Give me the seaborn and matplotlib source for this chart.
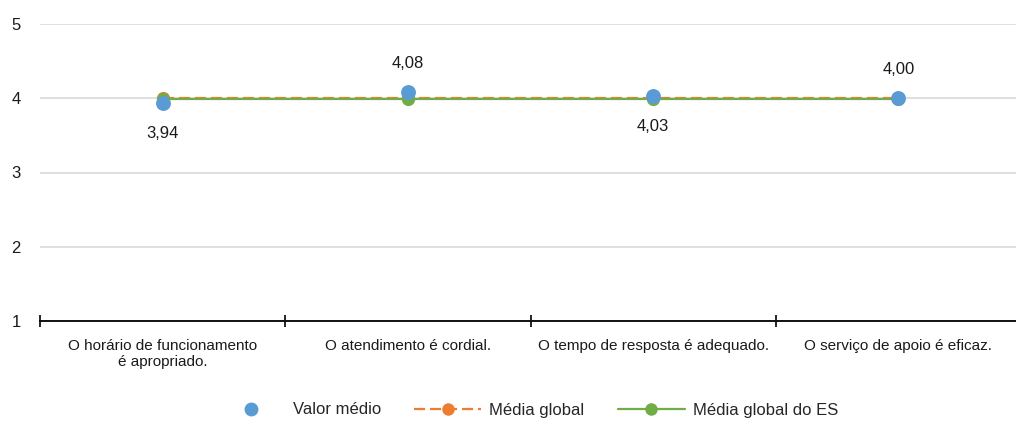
import matplotlib
matplotlib.use("Agg")
import matplotlib.pyplot as plt
from matplotlib.lines import Line2D
import seaborn as sns
import numpy as np
import pandas as pd

categories = [
    "O horário de funcionamento\né apropriado.",
    "O atendimento é cordial.",
    "O tempo de resposta é adequado.",
    "O serviço de apoio é eficaz.",
]
valor_medio = [3.94, 4.08, 4.03, 4.00]
media_global = [4.01, 4.01, 4.01, 4.01]
media_global_es = [3.99, 3.99, 3.99, 3.99]
label_above = [False, True, False, True]

BLUE = "#5B9BD5"
ORANGE = "#ED7D31"
GREEN = "#70AD47"
DASH = (0, (5, 2.2))

sns.set_theme(style="white")
plt.rcParams["font.family"] = ["Liberation Sans", "DejaVu Sans"]

df = pd.DataFrame({
    "pos": np.arange(len(categories)),
    "Valor médio": valor_medio,
    "Média global": media_global,
    "Média global do ES": media_global_es,
})

fig = plt.figure(figsize=(10.16, 4.24), dpi=100)
ax = fig.add_axes([40 / 1016, 1 - 321 / 424, 981 / 1016, 297 / 424])

sns.lineplot(data=df, x="pos", y="Média global", ax=ax, color=ORANGE,
             linewidth=1.6, linestyle=DASH, marker="o", markersize=9.5,
             markeredgewidth=0, zorder=3)
sns.lineplot(data=df, x="pos", y="Média global do ES", ax=ax, color=GREEN,
             linewidth=1.6, marker="o", markersize=9.5, markeredgewidth=0,
             zorder=4)
sns.scatterplot(data=df, x="pos", y="Valor médio", ax=ax, color=BLUE,
                s=115, linewidth=0, zorder=5)

for i, (v, up) in enumerate(zip(valor_medio, label_above)):
    ax.annotate(f"{v:.2f}".replace(".", ","), (i, v),
                xytext=(0, 21 if up else -22), textcoords="offset points",
                ha="center", va="center", fontsize=12, color="#1a1a1a")

ax.set_xlim(-0.5, len(categories) - 0.5)
ax.set_ylim(1, 5)
ax.set_yticks([1, 2, 3, 4, 5])
ax.set_yticklabels(["1", "2", "3", "4", "5"], fontsize=12, color="#1a1a1a")
ax.tick_params(axis="y", length=0, pad=14)
ax.yaxis.grid(True, color="#d9d9d9", linewidth=1.2)
ax.set_axisbelow(True)

ax.set_xticks(np.arange(-0.5, len(categories), 1.0))
ax.set_xticklabels([])
ax.tick_params(axis="x", which="major", bottom=True, direction="inout",
               length=9, width=1.2, color="black")
ax.set_xticks(np.arange(len(categories)), minor=True)
ax.set_xticklabels(categories, minor=True, fontsize=11, color="#1a1a1a",
                   linespacing=1.2)
ax.tick_params(axis="x", which="minor", bottom=True, length=0, pad=13)
ax.set_xlabel("")
ax.set_ylabel("")

for side in ["top", "right", "left"]:
    ax.spines[side].set_visible(False)
ax.spines["bottom"].set_color("black")
ax.spines["bottom"].set_linewidth(1.3)

handles = [
    Line2D([], [], linestyle="none", marker="o", markersize=10, color=BLUE,
           markeredgewidth=0),
    Line2D([], [], linestyle=DASH, linewidth=1.6, marker="o",
           markersize=9, color=ORANGE, markeredgewidth=0),
    Line2D([], [], linestyle="-", linewidth=1.6, marker="o", markersize=9,
           color=GREEN, markeredgewidth=0),
]
fig.legend(handles, ["Valor médio", "Média global", "Média global do ES"],
           loc="center", bbox_to_anchor=(528 / 1016, 1 - 410 / 424), ncol=3,
           frameon=False, fontsize=12, handlelength=4.0, columnspacing=2.0,
           handletextpad=0.5)

fig.savefig("out.png", dpi=100)
